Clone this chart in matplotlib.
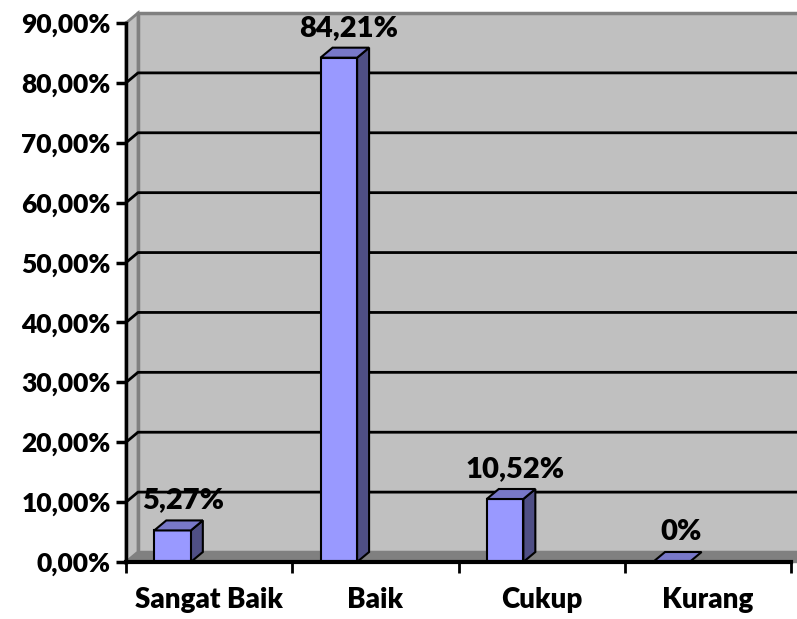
import matplotlib
matplotlib.use("Agg")
import matplotlib.pyplot as plt
from matplotlib.patches import Polygon

plt.rcParams['font.family'] = ['Lato', 'DejaVu Sans']

# data
kategori = ['Sangat Baik', 'Baik', 'Cukup', 'Kurang']
nilai = [5.27, 84.21, 10.52, 0.0]
label_nilai = ['5,27%', '84,21%', '10,52%', '0%']
yticks = [0, 10, 20, 30, 40, 50, 60, 70, 80, 90]
ytick_labels = ['0,00%', '10,00%', '20,00%', '30,00%', '40,00%',
                '50,00%', '60,00%', '70,00%', '80,00%', '90,00%']

# warna ala excel 3D
WALL = '#C0C0C0'
FLOOR = '#808080'
EDGE = '#808080'
BAR_FRONT = '#9999FF'
BAR_TOP = '#7878C8'
BAR_SIDE = '#4F4F85'
FW = 'heavy'

W, H = 797, 619
fig = plt.figure(figsize=(W / 100, H / 100), dpi=100)
fig.patch.set_facecolor('white')

# posisi axes (piksel) -> fraksi
left, right, bottom_px, top_px = 126, 791, 562, 23
ax = fig.add_axes([left / W, (H - bottom_px) / H, (right - left) / W, (bottom_px - top_px) / H])
ax.set_xlim(0, 4)
ax.set_ylim(0, 90)
ax.patch.set_visible(False)

# kedalaman 3D dalam satuan data
dx = 12 / ((right - left) / 4)
dy = 10 / ((bottom_px - top_px) / 90)

# dinding belakang, dinding samping, lantai
ax.add_patch(Polygon([(dx, dy), (4 + dx, dy), (4 + dx, 90 + dy), (dx, 90 + dy)],
                     closed=True, fc=WALL, ec=EDGE, lw=2.5, clip_on=False, zorder=0))
ax.add_patch(Polygon([(0, 0), (dx, dy), (dx, 90 + dy), (0, 90)],
                     closed=True, fc=WALL, ec=EDGE, lw=2, clip_on=False, zorder=0))
ax.add_patch(Polygon([(0, 0), (4 + dx, 0), (4 + dx, dy), (dx, dy)],
                     closed=True, fc=FLOOR, ec=EDGE, lw=1, clip_on=False, zorder=1))

# gridlines
for yv in yticks[1:-1]:
    ax.plot([0, dx, 4 + dx], [yv, yv + dy, yv + dy], color='black', lw=2,
            clip_on=False, zorder=1, solid_capstyle='butt')

# batang 3D
bar_off = 0.17
bar_w = 0.22
for i, v in enumerate(nilai):
    x0 = i + bar_off
    x1 = x0 + bar_w
    if v > 0:
        ax.add_patch(Polygon([(x1, 0), (x1 + dx, dy), (x1 + dx, v + dy), (x1, v)],
                             closed=True, fc=BAR_SIDE, ec='black', lw=1.5, zorder=3, clip_on=False))
        ax.add_patch(Polygon([(x0, 0), (x1, 0), (x1, v), (x0, v)],
                             closed=True, fc=BAR_FRONT, ec='black', lw=1.5, zorder=3, clip_on=False))
    ax.add_patch(Polygon([(x0, v), (x1, v), (x1 + dx, v + dy), (x0 + dx, v + dy)],
                         closed=True, fc=BAR_TOP, ec='black', lw=1.5, zorder=3, clip_on=False))
    ax.annotate(label_nilai[i], xy=(x0 + (bar_w + dx) / 2, v + dy), xytext=(3, 5),
                textcoords='offset points', ha='center', va='bottom',
                fontsize=21, fontweight=FW, zorder=5, annotation_clip=False)

# sumbu
for s in ['top', 'right']:
    ax.spines[s].set_visible(False)
ax.spines['left'].set_linewidth(2.5)
ax.spines['bottom'].set_linewidth(3)
ax.spines['left'].set_zorder(4)
ax.spines['bottom'].set_zorder(4)

ax.set_yticks(yticks)
ax.set_yticklabels(ytick_labels, fontsize=19, fontweight=FW)
ax.tick_params(axis='y', direction='out', length=7, width=2.5, pad=4)
ax.set_xticks([0, 1, 2, 3, 4])
ax.set_xticklabels([])
ax.set_xticks([0.5, 1.5, 2.5, 3.5], minor=True)
ax.set_xticklabels(kategori, minor=True, fontsize=20, fontweight=FW)
ax.tick_params(axis='x', which='major', direction='out', length=8, width=2)
ax.tick_params(axis='x', which='minor', length=0, pad=18)

fig.savefig('out.png', dpi=100)
